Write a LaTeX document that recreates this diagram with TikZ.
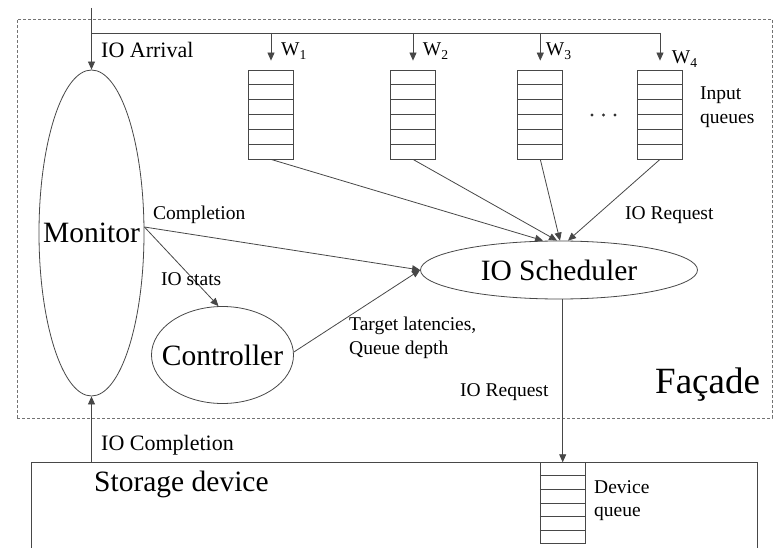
\documentclass[tikz,border=0pt]{standalone}
\usepackage{fontspec}
\setmainfont{Liberation Serif}
\usetikzlibrary{arrows.meta,shapes.geometric,calc}
\begin{document}
\begin{tikzpicture}[x=1pt,y=-1pt,
  ln/.style={draw=black!72,line width=0.8pt},
  arr/.style={ln,-{Triangle[length=8pt,width=7pt]}},
  lbl/.style={inner sep=0pt,anchor=base west,font=\rmfamily\fontsize{19.5}{23.5}\selectfont,align=left},
  lblb/.style={inner sep=0pt,anchor=base west,font=\rmfamily\fontsize{22}{26}\selectfont},
  bigtxt/.style={font=\rmfamily\fontsize{29.5}{32}\selectfont},
  ell/.style={ln,ellipse,inner sep=0pt,bigtxt},
  queuebox/.style={ln,rectangle,inner sep=0pt,minimum width=45pt,minimum height=89pt},
  framebox/.style={draw=black!55,line width=0.7pt,dash pattern=on 3pt off 2pt,inner sep=0pt}
]
\useasboundingbox (0,0) rectangle (782,548);

% facade frame
\node[framebox,minimum width=755pt,minimum height=399pt] (facade) at (394.5,218.5) {};
\node[inner sep=0pt,anchor=base west,font=\rmfamily\fontsize{37}{40}\selectfont] (facadelbl) at (655,393) {Façade};

% main ellipses
\node[ell,minimum width=105pt,minimum height=326pt] (monitor) at (91.5,233) {\makebox[0pt]{Monitor}};
\node[ell,minimum width=142pt,minimum height=97pt] (ctrl) at (222.5,355) {\makebox[0pt]{Controller}};
\node[ell,minimum width=277pt,minimum height=58pt] (sched) at (559,270) {\makebox[0pt]{IO Scheduler}};

% input queues
\node[queuebox] (q1) at (271,114.5) {};
\node[queuebox] (q2) at (413,114.5) {};
\node[queuebox] (q3) at (540.3,114.5) {};
\node[queuebox] (q4) at (660,114.5) {};
% device queue
\node[queuebox,minimum height=80.6pt] (dq) at (562.7,503) {};
\foreach \q in {q1,q2,q3,q4,dq}
  \foreach \i in {1,...,5}
    \draw[ln] ($(\q.north west)!\i/6!(\q.south west)$) -- ($(\q.north east)!\i/6!(\q.south east)$);

% dots
\foreach \dx in {592,603.5,615}
  \fill[black!80] (\dx,115) circle (1.6pt);

% storage device box (cut by the picture edge)
\draw[ln] (31.7,548) |- (757.7,462.7) -- (757.7,548);
\coordinate (stor) at (91.5,462.7);

% input bus
\coordinate (in) at (91.5,8);
\coordinate (bus) at (91.5,33);
\draw[arr] (in) -- (monitor.north);
\draw[ln] (bus) -- (bus -| q4.north);
\foreach \q in {q1,q2,q3,q4}
  \draw[arr] (bus -| \q.north) -- ([yshift=9pt]\q.north);

% queues to scheduler
\draw[arr] (q1.south) -- ([xshift=-16pt]sched.north);
\draw[arr] (q2.south) -- ([xshift=-2pt]sched.north);
\draw[arr] (q3.south) -- ([xshift=1pt]sched.north);
\draw[arr] (q4.south) -- ([xshift=9pt]sched.north);

% monitor connections
\draw[arr] ([yshift=6pt]monitor.east) -- (sched.west);
\draw[arr] ([yshift=6pt]monitor.east) -- ([xshift=-4pt]ctrl.north);
\draw[arr] ([yshift=3pt]ctrl.east) -- (sched.west);
\draw[arr] (sched.south -| dq.north) -- (dq.north);
\draw[arr] (stor) -- (monitor.south);

% labels
\node[lblb] (lArr) at (101,58) {IO Arrival};
\node[lblb] (lComp2) at (101,450.7) {IO Completion};
\node[lbl] (w1) at (281,56) {W\textsubscript{1}};
\node[lbl] (w2) at (422.7,56) {W\textsubscript{2}};
\node[lbl] (w3) at (545.7,56) {W\textsubscript{3}};
\node[lbl] (w4) at (671.7,64) {W\textsubscript{4}};
\node[lbl] (inq) at (700,123.3) {Input\\queues};
\node[lbl] (lComp) at (153,219.3) {Completion};
\node[lbl] (lStats) at (161,286) {IO stats};
\node[lbl] (lReq1) at (625,219.3) {IO Request};
\node[lbl] (lTarget) at (349,354.3) {Target latencies,\\Queue depth};
\node[lbl] (lReq2) at (460,396.7) {IO Request};
\node[inner sep=0pt,anchor=base west,bigtxt] (lStor) at (94,491.7) {Storage device};
\node[lbl] (lDev) at (594,516.7) {Device\\queue};
\end{tikzpicture}
\end{document}
